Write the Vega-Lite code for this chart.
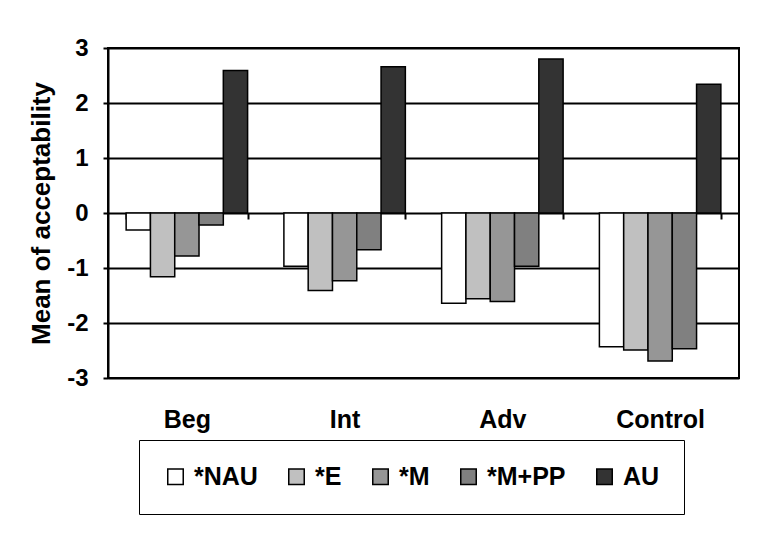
{
  "$schema": "https://vega.github.io/schema/vega-lite/v6.json",
  "width": 631,
  "height": 330,
  "autosize": "none",
  "padding": {"left": 108, "top": 48, "right": 26, "bottom": 155},
  "background": "white",
  "data": {
    "values": [
      {"level": "Beg", "type": "*NAU", "mean": -0.31},
      {"level": "Beg", "type": "*E", "mean": -1.16},
      {"level": "Beg", "type": "*M", "mean": -0.78},
      {"level": "Beg", "type": "*M+PP", "mean": -0.22},
      {"level": "Beg", "type": "AU", "mean": 2.59},
      {"level": "Int", "type": "*NAU", "mean": -0.97},
      {"level": "Int", "type": "*E", "mean": -1.41},
      {"level": "Int", "type": "*M", "mean": -1.23},
      {"level": "Int", "type": "*M+PP", "mean": -0.67},
      {"level": "Int", "type": "AU", "mean": 2.66},
      {"level": "Adv", "type": "*NAU", "mean": -1.64},
      {"level": "Adv", "type": "*E", "mean": -1.56},
      {"level": "Adv", "type": "*M", "mean": -1.61},
      {"level": "Adv", "type": "*M+PP", "mean": -0.97},
      {"level": "Adv", "type": "AU", "mean": 2.80},
      {"level": "Control", "type": "*NAU", "mean": -2.43},
      {"level": "Control", "type": "*E", "mean": -2.49},
      {"level": "Control", "type": "*M", "mean": -2.69},
      {"level": "Control", "type": "*M+PP", "mean": -2.47},
      {"level": "Control", "type": "AU", "mean": 2.34}
    ]
  },
  "mark": {"type": "bar", "stroke": "black", "strokeWidth": 1.5},
  "encoding": {
    "x": {
      "field": "level",
      "type": "nominal",
      "sort": ["Beg", "Int", "Adv", "Control"],
      "scale": {"paddingInner": 0.23, "paddingOuter": 0.115},
      "axis": {
        "title": null,
        "orient": "bottom",
        "offset": -165,
        "domain": false,
        "grid": false,
        "ticks": true,
        "tickBand": "extent",
        "tickSize": 6,
        "tickColor": "black",
        "tickWidth": 2,
        "labelAngle": 0,
        "labelPadding": 188,
        "labelFont": "Liberation Sans",
        "labelFontWeight": "bold",
        "labelFontSize": 25,
        "labelColor": "black"
      }
    },
    "xOffset": {
      "field": "type",
      "type": "nominal",
      "sort": ["*NAU", "*E", "*M", "*M+PP", "AU"],
      "scale": {"paddingInner": 0, "paddingOuter": 0}
    },
    "y": {
      "field": "mean",
      "type": "quantitative",
      "stack": null,
      "scale": {"domain": [-3, 3], "nice": false, "zero": true},
      "axis": {
        "title": "Mean of acceptability",
        "values": [-3, -2, -1, 0, 1, 2, 3],
        "labelExpr": "toString(datum.value)",
        "grid": true,
        "gridColor": "black",
        "gridWidth": 2,
        "gridOpacity": 1,
        "domainColor": "black",
        "domainWidth": 2,
        "tickColor": "black",
        "tickWidth": 2,
        "tickSize": 5,
        "labelPadding": 15,
        "labelFont": "Liberation Sans",
        "labelFontWeight": "bold",
        "labelFontSize": 24,
        "labelColor": "black",
        "titleFont": "Liberation Sans",
        "titleFontWeight": "bold",
        "titleFontSize": 26,
        "titleColor": "black",
        "titlePadding": 12
      }
    },
    "fill": {
      "field": "type",
      "type": "nominal",
      "scale": {
        "domain": ["*NAU", "*E", "*M", "*M+PP", "AU"],
        "range": ["#ffffff", "#c0c0c0", "#969696", "#808080", "#333333"]
      },
      "legend": {
        "title": null,
        "orient": "none",
        "legendX": 31,
        "legendY": 392,
        "direction": "horizontal",
        "columns": 5,
        "strokeColor": "black",
        "fillColor": "white",
        "padding": 24,
        "columnPadding": 26,
        "symbolType": "square",
        "symbolSize": 240,
        "symbolStrokeColor": "black",
        "symbolStrokeWidth": 1.5,
        "symbolOpacity": 1,
        "labelOffset": 6,
        "labelFont": "Liberation Sans",
        "labelFontWeight": "bold",
        "labelFontSize": 25,
        "labelColor": "black"
      }
    }
  },
  "config": {
    "view": {"stroke": "black", "strokeWidth": 2}
  }
}
